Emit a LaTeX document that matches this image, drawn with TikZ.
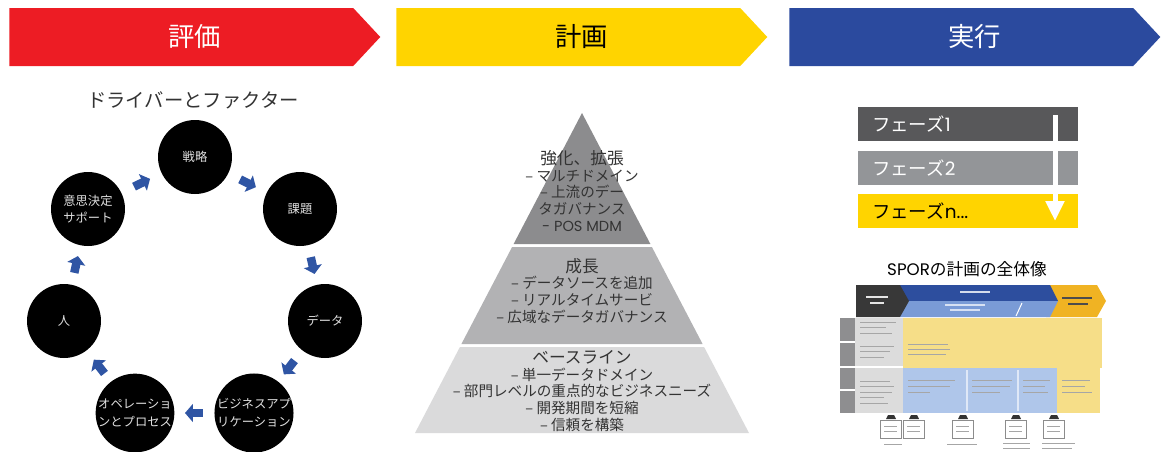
\documentclass[tikz,border=0pt]{standalone}
\usepackage{fontspec}
\setmainfont{Noto Sans CJK JP}
\newfontfamily\latfont{Poppins}
\usepackage{tikz}
\usetikzlibrary{positioning, arrows.meta, calc, shapes.symbols}

\definecolor{evalred}{HTML}{ED1C24}
\definecolor{planyellow}{HTML}{FFD400}
\definecolor{runblue}{HTML}{2B4A9E}
\definecolor{arrowblue}{HTML}{2F55A4}
\definecolor{tierdark}{HTML}{8C8C8E}
\definecolor{tiermid}{HTML}{B2B2B4}
\definecolor{tierlight}{HTML}{DADADB}
\definecolor{phasedark}{HTML}{58585A}
\definecolor{phasegray}{HTML}{939598}
\definecolor{inktext}{HTML}{333333}
\definecolor{thumbgray}{HTML}{8E8E90}
\definecolor{thumblight}{HTML}{DCDCDC}
\definecolor{thumbpale}{HTML}{F6DE88}
\definecolor{thumbsky}{HTML}{AFC6EA}
\definecolor{thumbblue}{HTML}{2D4E9E}
\definecolor{thumbmid}{HTML}{7A9BD6}
\definecolor{thumbgold}{HTML}{F0B323}

\begin{document}
\begin{tikzpicture}[
    x=0.02cm, y=-0.02cm,
    header/.style={signal, signal to=east, signal pointer angle=94, minimum width=7.42cm, minimum height=1.16cm, inner sep=0, anchor=west},
    headtext/.style={font=\fontsize{15}{17}\selectfont},
    roundnode/.style={circle, fill=black, minimum size=1.48cm, inner sep=0, text=black!12, align=center, font=\fontsize{7}{10}\selectfont},
    flowarrow/.style={arrowblue, line width=0.17cm, -{Triangle[width=0.36cm, length=0.16cm]}},
    tiertext/.style={align=center, text=inktext, font=\fontsize{8.3}{9.6}\selectfont},
    phasebar/.style={rectangle, minimum width=4.4cm, minimum height=0.68cm, inner xsep=0.28cm, text width=3.84cm, align=left, font=\fontsize{10.5}{12}\selectfont},
    faint/.style={draw=black!35, line width=0.02cm}
]
\useasboundingbox (0,0) rectangle (1163,451);

% headers
\node[header, fill=evalred](h1) at (9,37){};
\node[header, fill=planyellow](h2) at (396,37){};
\node[header, fill=runblue](h3) at (789,37){};
\node[headtext, text=white](h1text) at ($(h1.west)!0.5!(h1.east)$){評価};
\node[headtext, text=black](h2text) at ($(h2.west)!0.5!(h2.east)$){計画};
\node[headtext, text=white](h3text) at ($(h3.west)!0.5!(h3.east)$){実行};

% drivers and factors
\node[text=inktext, font=\fontsize{11}{13}\selectfont](drivers) at (193,100){ドライバーとファクター};
\node[roundnode](c1) at (195,157){戦略};
\node[roundnode](c2) at (300,209){課題};
\node[roundnode](c3) at (325,321){データ};
\node[roundnode](c4) at (254,413){ビジネスアプ\\リケーション};
\node[roundnode](c5) at (135,413){オペレーショ\\ンとプロセス};
\node[roundnode](c6) at (64,321){人};
\node[roundnode](c7) at (88,209){意思決定\\サポート};

\draw[flowarrow] ($(c1)!0.43!(c2)$) -- ($(c1)!0.58!(c2)$);
\draw[flowarrow] ($(c2)!0.43!(c3)$) -- ($(c2)!0.58!(c3)$);
\draw[flowarrow] ($(c3)!0.43!(c4)$) -- ($(c3)!0.58!(c4)$);
\draw[flowarrow] ($(c4)!0.43!(c5)$) -- ($(c4)!0.58!(c5)$);
\draw[flowarrow] ($(c5)!0.43!(c6)$) -- ($(c5)!0.58!(c6)$);
\draw[flowarrow] ($(c6)!0.43!(c7)$) -- ($(c6)!0.58!(c7)$);
\draw[flowarrow] ($(c7)!0.43!(c1)$) -- ($(c7)!0.58!(c1)$);

% pyramid
\fill[tierdark] (582,113) -- (650.4,244) -- (513.6,244) -- cycle;
\fill[tiermid] (512.1,247) -- (651.9,247) -- (702.6,344) -- (461.4,344) -- cycle;
\fill[tierlight] (459.9,347) -- (704.1,347) -- (749,433) -- (415,433) -- cycle;

\node[tiertext](tier3) at (582,191){{\fontsize{9.5}{9.6}\selectfont 強化、拡張}\\– マルチドメイン\\– 上流のデー\\タガバナンス\\{\latfont - POS MDM}};
\node[tiertext](tier2) at (582,291){{\fontsize{9.5}{9.6}\selectfont 成長}\\– データソースを追加\\– リアルタイムサービ\\– 広域なデータガバナンス};
\node[tiertext](tier1) at (582,391){{\fontsize{9.5}{9.6}\selectfont ベースライン}\\– 単一データドメイン\\– 部門レベルの重点的なビジネスニーズ\\– 開発期間を短縮\\– 信頼を構築};

% phases
\node[phasebar, fill=phasedark, text=white](ph1) at (968,124){フェーズ{\latfont 1}};
\node[phasebar, fill=phasegray, text=white, below=0.18cm of ph1](ph2){フェーズ{\latfont 2}};
\node[phasebar, fill=planyellow, text=black, below=0.18cm of ph2](ph3){フェーズ{\latfont n...}};
\coordinate (flowtop) at (1055,115);
\coordinate (flowend) at (1055,221);
\draw[white, line width=0.1cm, -{Triangle[width=0.36cm, length=0.4cm]}] (flowtop) -- (flowend);

% SPOR overview
\node[text=black, font=\fontsize{9.5}{12}\selectfont](sportitle) at (967,269){{\latfont SPOR}の計画の全体像};

\fill[thumbgold] (1046,285) -- (1097,285) -- (1106,301) -- (1097,317) -- (1046,317) -- (1054,301) -- cycle;
\fill[thumbblue] (895,285) -- (1050,285) -- (1058,301) -- (895,301) -- cycle;
\fill[thumbmid] (900,301) -- (1058,301) -- (1050,317) -- (900,317) -- cycle;
\fill[black!78] (856,285) -- (900,285) -- (909,301) -- (900,317) -- (856,317) -- cycle;
\draw[white, line width=0.02cm] (1022,303) -- (1016,316);
\draw[black!10, line width=0.03cm] (866,297) -- (888,297) (870,303) -- (884,303);
\draw[white!80!thumbblue, line width=0.03cm] (960,292) -- (990,292);
\draw[white!70!thumbmid, line width=0.03cm] (945,305) -- (985,305) (950,310) -- (980,310);
\draw[black!70, line width=0.03cm] (1062,298) -- (1092,298) (1068,304) -- (1088,304);

\fill[thumbgray] (840,318) rectangle (855,413);
\fill[thumblight] (855,318) rectangle (903,413);
\fill[thumbpale] (903,318) rectangle (1102,368);
\fill[thumbsky] (903,368) rectangle (1057,413);
\fill[thumbpale] (1057,368) rectangle (1100,413);
\draw[white, line width=0.03cm] (840,342) -- (855,342) (840,367) -- (903,367) (840,390) -- (855,390);
\draw[white!60!thumbsky, line width=0.03cm] (967,370) -- (967,411) (1018,370) -- (1018,411);
\draw[faint] (860,322) -- (896,322) (860,327) -- (886,327) (860,333) -- (892,333)
             (860,346) -- (894,346) (860,351) -- (890,351) (860,357) -- (884,357)
             (860,381) -- (890,381) (860,386) -- (894,386) (860,392) -- (892,392)
             (860,397) -- (884,397) (860,403) -- (888,403);
\draw[faint] (908,344) -- (948,344) (908,349) -- (950,349) (908,354) -- (946,354);
\draw[faint] (908,380) -- (955,380) (908,386) -- (950,386) (908,392) -- (930,392)
             (972,380) -- (1012,380) (972,386) -- (1010,386) (972,392) -- (1000,392)
             (1023,380) -- (1050,380) (1023,386) -- (1045,386) (1023,392) -- (1048,392)
             (1062,380) -- (1090,380) (1062,386) -- (1085,386) (1062,392) -- (1092,392);

\draw[black!45, line width=0.02cm] (880,420) rectangle (901,438) (903,420) rectangle (924,438)
    (952,420) rectangle (973,438) (1005,420) rectangle (1026,438) (1043,420) rectangle (1064,438);
\fill[black!80] (886,419) -- (888,415) -- (894,415) -- (896,419) -- cycle;
\fill[black!80] (909,419) -- (911,415) -- (917,415) -- (919,419) -- cycle;
\fill[black!80] (958,419) -- (960,415) -- (966,415) -- (968,419) -- cycle;
\fill[black!80] (1011,419) -- (1013,415) -- (1019,415) -- (1021,419) -- cycle;
\fill[black!80] (1049,419) -- (1051,415) -- (1057,415) -- (1059,419) -- cycle;
\draw[faint] (884,426) -- (897,426) (884,431) -- (897,431) (907,426) -- (920,426) (907,431) -- (920,431)
             (956,426) -- (969,426) (956,431) -- (969,431) (1009,426) -- (1022,426) (1009,431) -- (1022,431)
             (1047,426) -- (1060,426) (1047,431) -- (1060,431);
\draw[faint] (884,444) -- (902,444) (947,444) -- (977,444) (1003,443) -- (1030,443) (1003,448) -- (1030,448)
             (1042,443) -- (1075,443) (1042,448) -- (1072,448);
\end{tikzpicture}
\end{document}
